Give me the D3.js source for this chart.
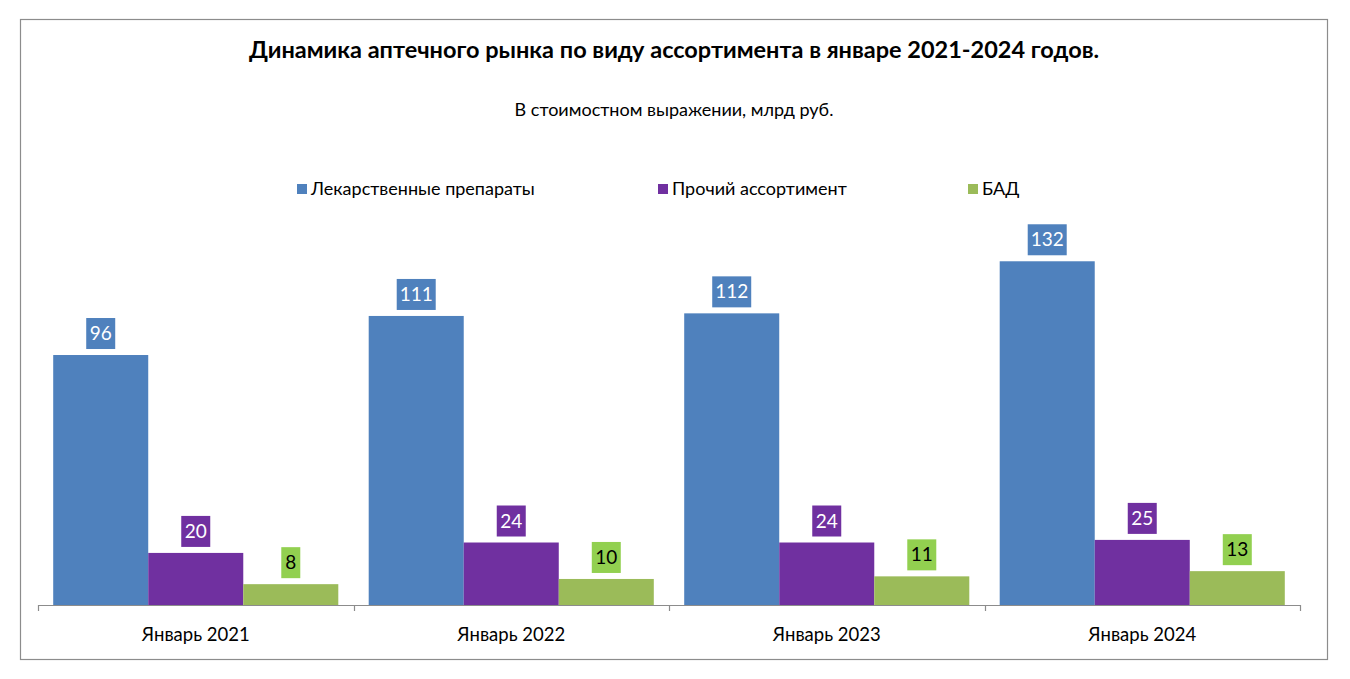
<!DOCTYPE html>
<html><head><meta charset="utf-8">
<script src="https://cdn.jsdelivr.net/npm/d3@7"></script>
<style>body{margin:0;background:#fff}svg{display:block}</style>
</head><body>
<svg id="c" width="1350" height="679"></svg>
<script>
const categories = ["Январь 2021","Январь 2022","Январь 2023","Январь 2024"];
const seriesNames = ["Лекарственные препараты","Прочий ассортимент","БАД"];
const drugs = [96,111,112,132];
const other = [20,24,24,25];
const supplements = [8,10,11,13];
const seriesValues = [drugs, other, supplements];
const colors = ["#4F81BD","#7030A0","#9BBB59"];
const labelBg = ["#4F81BD","#7030A0","#92D050"];
const labelFg = ["#fff","#fff","#000"];

const svg = d3.select("#c");
const font = "Lato, 'Open Sans', sans-serif";

svg.append("rect").attr("x",20.5).attr("y",19.5).attr("width",1307).attr("height",640)
  .attr("fill","#fff").attr("stroke","#8c8c8c").attr("stroke-width",1.2);

svg.append("text").attr("x",674).attr("y",58).attr("text-anchor","middle")
  .attr("font-family",font).attr("font-weight","bold").attr("font-size",23.5).attr("fill","#000")
  .text("Динамика аптечного рынка по виду ассортимента в январе 2021-2024 годов.");
svg.append("text").attr("x",674).attr("y",116).attr("text-anchor","middle")
  .attr("font-family",font).attr("font-size",18).attr("fill","#000")
  .text("В стоимостном выражении, млрд руб.");

// legend
const legX = [297, 658, 968];
seriesNames.forEach((n,i)=>{
  svg.append("rect").attr("x",legX[i]).attr("y",184).attr("width",10).attr("height",10).attr("fill",colors[i]);
  svg.append("text").attr("x",legX[i]+14).attr("y",195).attr("font-family",font).attr("font-size",18).attr("fill","#000").text(n);
});

const x0 = d3.scaleBand().domain(categories).range([38,1300]).paddingInner(0).paddingOuter(0);
const x1 = d3.scaleBand().domain(d3.range(3)).range([0,x0.bandwidth()]).paddingInner(0).paddingOuter(0.16);
const y = d3.scaleLinear().domain([0,140]).range([605,605-140*2.604]);

const g = svg.append("g");
categories.forEach((c,ci)=>{
  seriesValues.forEach((vals,si)=>{
    const v = vals[ci];
    const bx = x0(c)+x1(si), bw = x1.bandwidth();
    g.append("rect").attr("x",bx).attr("y",y(v)).attr("width",bw).attr("height",y(0)-y(v)).attr("fill",colors[si]);
    const txt = String(v);
    const tw = txt.length*10+9;
    const cx = bx+bw/2;
    g.append("rect").attr("x",cx-tw/2).attr("y",y(v)-37).attr("width",tw).attr("height",31).attr("fill",labelBg[si]);
    g.append("text").attr("x",cx).attr("y",y(v)-15).attr("text-anchor","middle")
      .attr("font-family",font).attr("font-size",19).attr("fill",labelFg[si]).text(txt);
  });
});

// axis
const ax = svg.append("g").attr("transform","translate(0,605)");
ax.append("line").attr("x1",38).attr("x2",1300).attr("y1",0.5).attr("y2",0.5).attr("stroke","#8c8c8c").attr("stroke-width",1.2);
const ticks = categories.map(c=>x0(c)).concat([x0.range()[1]]);
ax.selectAll("line.t").data(ticks).enter().append("line").attr("class","t")
  .attr("x1",d=>Math.round(d)+0.5).attr("x2",d=>Math.round(d)+0.5).attr("y1",0).attr("y2",6)
  .attr("stroke","#8c8c8c").attr("stroke-width",1.2);
ax.selectAll("text").data(categories).enter().append("text")
  .attr("x",d=>x0(d)+x0.bandwidth()/2).attr("y",36).attr("text-anchor","middle")
  .attr("font-family",font).attr("font-size",18.5).attr("fill","#000").text(d=>d);
</script>
</body></html>
